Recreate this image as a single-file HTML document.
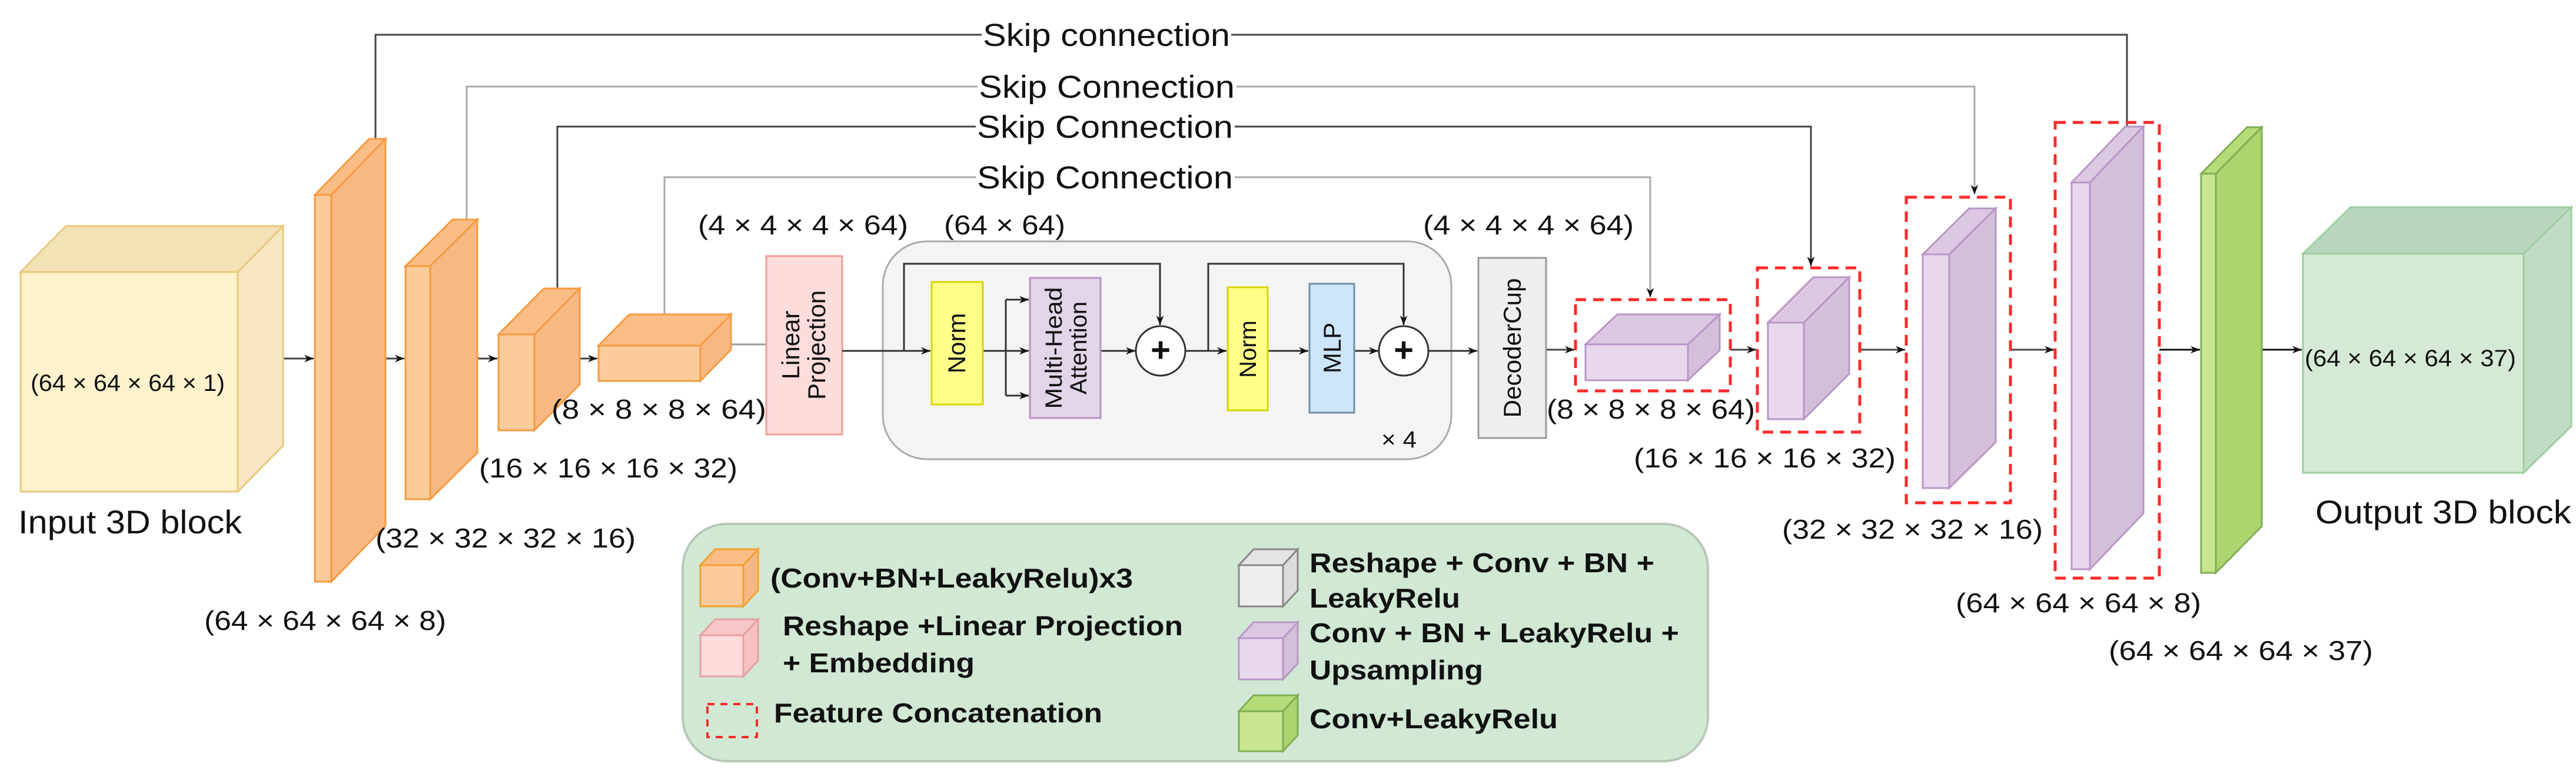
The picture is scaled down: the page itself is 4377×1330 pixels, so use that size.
<!DOCTYPE html>
<html><head><meta charset="utf-8"><style>
html,body{margin:0;padding:0;background:#fff;}
svg{display:block;}
text{font-family:"Liberation Sans",Arial,sans-serif;fill:#111;}
</style></head><body>
<svg width="4377" height="1330" viewBox="0 0 4377 1330" xmlns="http://www.w3.org/2000/svg">
<defs>
<marker id="a" viewBox="0 0 10 10" refX="10" refY="5" markerWidth="5" markerHeight="5" orient="auto" markerUnits="userSpaceOnUse"><path d="M0,0 L10,5 L0,10 z" fill="#111"/></marker>
<marker id="b" viewBox="0 0 10 10" refX="10" refY="5" markerWidth="16" markerHeight="16" orient="auto" markerUnits="userSpaceOnUse"><path d="M0,1 L10,5 L0,9 L3,5 z" fill="#111"/></marker>
</defs>

<!-- skip connections -->
<g fill="none" stroke-width="3">
<polyline points="638,236 638,59 3614,59 3614,340" stroke="#444" marker-end="url(#b)"/>
<polyline points="793,373 793,147 3355,147 3355,330" stroke="#aaa" marker-end="url(#b)"/>
<polyline points="947,490 947,215 3077,215 3077,452" stroke="#444" marker-end="url(#b)"/>
<polyline points="1129,534 1129,301 2804,301 2804,505" stroke="#aaa" marker-end="url(#b)"/>
</g>
<g font-size="54">
<rect x="1668" y="28" width="424" height="60" fill="#fff"/><text x="1670" y="78" textLength="420" lengthAdjust="spacingAndGlyphs">Skip connection</text>
<rect x="1661" y="116" width="440" height="60" fill="#fff"/><text x="1663" y="166" textLength="435" lengthAdjust="spacingAndGlyphs">Skip Connection</text>
<rect x="1658" y="184" width="440" height="60" fill="#fff"/><text x="1660" y="234" textLength="435" lengthAdjust="spacingAndGlyphs">Skip Connection</text>
<rect x="1658" y="270" width="440" height="60" fill="#fff"/><text x="1660" y="320" textLength="435" lengthAdjust="spacingAndGlyphs">Skip Connection</text>
</g>

<!-- main arrows -->
<g stroke="#444" stroke-width="3" fill="none">
<line x1="481" y1="609" x2="533" y2="609" marker-end="url(#b)"/>
<line x1="655" y1="609" x2="687" y2="609" marker-end="url(#b)"/>
<line x1="811" y1="609" x2="845" y2="609" marker-end="url(#b)"/>
<line x1="985" y1="609" x2="1015" y2="609" marker-end="url(#b)"/>
<line x1="1242" y1="585" x2="1302" y2="585" stroke="#999"/>
<line x1="2627" y1="594" x2="2675" y2="594" marker-end="url(#b)"/>
<line x1="2940" y1="594" x2="2984" y2="594" marker-end="url(#b)"/>
<line x1="3160" y1="594" x2="3237" y2="594" marker-end="url(#b)"/>
<line x1="3416" y1="594" x2="3490" y2="594" marker-end="url(#b)"/>
<line x1="3669" y1="594" x2="3738" y2="594" marker-end="url(#b)" stroke="#111"/>
<line x1="3843" y1="594" x2="3911" y2="594" marker-end="url(#b)" stroke="#111"/>
</g>

<!-- input cube -->
<g stroke="#e8c97a" stroke-width="3">
<polygon points="35,462 404,462 481,384 112,384" fill="#f3e2b6"/>
<polygon points="404,462 481,384 481,757 404,835" fill="#f7e7c2"/>
<rect x="35" y="462" width="369" height="373" fill="#fff2cc"/>
</g>
<text x="52" y="664" font-size="40" textLength="330" lengthAdjust="spacingAndGlyphs">(64 × 64 × 64 × 1)</text>
<text x="31" y="906" font-size="56" textLength="380" lengthAdjust="spacingAndGlyphs">Input 3D block</text>

<!-- orange blocks -->
<g stroke="#f59b3f" stroke-width="3">
<polygon points="535,331 563,331 655,236 627,236" fill="#fbbd86"/>
<polygon points="563,331 655,236 655,893 563,988" fill="#f8b883"/>
<rect x="535" y="331" width="28" height="657" fill="#fccb9b"/>
<polygon points="689,452 731,452 811,373 769,373" fill="#fbbd86"/>
<polygon points="731,452 811,373 811,769 731,848" fill="#f8b883"/>
<rect x="689" y="452" width="42" height="396" fill="#fccb9b"/>
<polygon points="847,568 908,568 985,490 924,490" fill="#fbbd86"/>
<polygon points="908,568 985,490 985,653 908,731" fill="#f8b883"/>
<rect x="847" y="568" width="61" height="163" fill="#fccb9b"/>
<polygon points="1017,587 1190,587 1242,534 1069,534" fill="#fbbd86"/>
<polygon points="1190,587 1242,534 1242,594 1190,647" fill="#f8b883"/>
<rect x="1017" y="587" width="173" height="60" fill="#fccb9b"/>
</g>

<g font-size="46">
<text x="1186" y="398" textLength="357" lengthAdjust="spacingAndGlyphs">(4 × 4 × 4 × 64)</text>
<text x="1604" y="398" textLength="206" lengthAdjust="spacingAndGlyphs">(64 × 64)</text>
<text x="937" y="711" textLength="365" lengthAdjust="spacingAndGlyphs">(8 × 8  × 8 × 64)</text>
<text x="814" y="811" textLength="439" lengthAdjust="spacingAndGlyphs">(16 × 16 × 16 × 32)</text>
<text x="638" y="930" textLength="442" lengthAdjust="spacingAndGlyphs">(32 × 32 × 32 × 16)</text>
<text x="347" y="1070" textLength="411" lengthAdjust="spacingAndGlyphs">(64 × 64 × 64 × 8)</text>
<text x="2418" y="398" textLength="358" lengthAdjust="spacingAndGlyphs">(4 × 4 × 4 × 64)</text>
<text x="2628" y="711" textLength="354" lengthAdjust="spacingAndGlyphs">(8 × 8 × 8 × 64)</text>
<text x="2776" y="794" textLength="445" lengthAdjust="spacingAndGlyphs">(16 × 16 × 16 × 32)</text>
<text x="3028" y="915" textLength="443" lengthAdjust="spacingAndGlyphs">(32 × 32 × 32 × 16)</text>
<text x="3323" y="1040" textLength="417" lengthAdjust="spacingAndGlyphs">(64 × 64 × 64 × 8)</text>
<text x="3583" y="1121" textLength="449" lengthAdjust="spacingAndGlyphs">(64 × 64 × 64 × 37)</text>
</g>

<!-- linear projection -->
<rect x="1302" y="435" width="129" height="303" fill="#fddcdc" stroke="#f19c9c" stroke-width="3"/>
<g transform="translate(1366,586) rotate(-90)" font-size="42">
<text x="0" y="-8" text-anchor="middle">Linear</text>
<text x="0" y="36" text-anchor="middle" textLength="186" lengthAdjust="spacingAndGlyphs">Projection</text>
</g>

<!-- transformer box -->
<rect x="1500" y="410" width="966" height="370" rx="75" fill="#f4f4f4" stroke="#aaa" stroke-width="3"/>
<g stroke="#333" stroke-width="3" fill="none">
<line x1="1431" y1="596" x2="1581" y2="596" marker-end="url(#b)"/>
<polyline points="1536,596 1536,448 1971,448 1971,552" marker-end="url(#b)"/>
<line x1="1670" y1="596" x2="1748" y2="596" marker-end="url(#b)"/>
<polyline points="1709,509 1709,672"/>
<line x1="1709" y1="509" x2="1748" y2="509" marker-end="url(#b)"/>
<line x1="1709" y1="672" x2="1748" y2="672" marker-end="url(#b)"/>
<line x1="1870" y1="596" x2="1929" y2="596" marker-end="url(#b)"/>
<line x1="2013" y1="596" x2="2084" y2="596" marker-end="url(#b)"/>
<polyline points="2053,596 2053,448 2385,448 2385,552" marker-end="url(#b)"/>
<line x1="2154" y1="596" x2="2223" y2="596" marker-end="url(#b)"/>
<line x1="2301" y1="596" x2="2342" y2="596" marker-end="url(#b)"/>
<line x1="2427" y1="596" x2="2510" y2="596" marker-end="url(#b)"/>
</g>
<rect x="1583" y="479" width="87" height="208" fill="#ffff88" stroke="#d6d600" stroke-width="3"/>
<text transform="translate(1640,583) rotate(-90)" font-size="42" text-anchor="middle">Norm</text>
<rect x="1750" y="472" width="120" height="238" fill="#e1d5e7" stroke="#b893c4" stroke-width="3"/>
<g transform="translate(1810,591) rotate(-90)" font-size="40">
<text x="0" y="-6" text-anchor="middle" textLength="207" lengthAdjust="spacingAndGlyphs">Multi-Head</text>
<text x="0" y="36" text-anchor="middle">Attention</text>
</g>
<circle cx="1972" cy="596" r="42" fill="#fff" stroke="#333" stroke-width="3"/>
<text x="1972" y="614" font-size="58" font-weight="bold" text-anchor="middle">+</text>
<rect x="2086" y="488" width="68" height="209" fill="#ffff88" stroke="#d6d600" stroke-width="3"/>
<text transform="translate(2134,593) rotate(-90)" font-size="40" text-anchor="middle">Norm</text>
<rect x="2225" y="482" width="76" height="219" fill="#cce5fb" stroke="#6f8fa8" stroke-width="3"/>
<text transform="translate(2278,591) rotate(-90)" font-size="42" text-anchor="middle">MLP</text>
<circle cx="2385" cy="596" r="42" fill="#fff" stroke="#333" stroke-width="3"/>
<text x="2385" y="614" font-size="58" font-weight="bold" text-anchor="middle">+</text>
<text x="2347" y="760" font-size="40" textLength="60" lengthAdjust="spacingAndGlyphs">× 4</text>

<!-- decoder cup -->
<rect x="2512" y="438" width="115" height="306" fill="#eeeeee" stroke="#999" stroke-width="3"/>
<text transform="translate(2584,591) rotate(-90)" font-size="42" text-anchor="middle" textLength="237" lengthAdjust="spacingAndGlyphs">DecoderCup</text>

<!-- purple blocks -->
<g stroke="#b896c6" stroke-width="3">
<polygon points="2694,585 2868,585 2922,534 2748,534" fill="#dcc8e2"/>
<polygon points="2868,585 2922,534 2922,595 2868,646" fill="#d3bfd9"/>
<rect x="2694" y="585" width="174" height="61" fill="#e8d8ee"/>
<polygon points="3004,548 3065,548 3142,471 3081,471" fill="#dcc8e2"/>
<polygon points="3065,548 3142,471 3142,635 3065,712" fill="#d3bfd9"/>
<rect x="3004" y="548" width="61" height="164" fill="#e8d8ee"/>
<polygon points="3267,432 3312,432 3391,354 3346,354" fill="#dcc8e2"/>
<polygon points="3312,432 3391,354 3391,751 3312,829" fill="#d3bfd9"/>
<rect x="3267" y="432" width="45" height="397" fill="#e8d8ee"/>
<polygon points="3520,310 3551,310 3642,215 3611,215" fill="#dcc8e2"/>
<polygon points="3551,310 3642,215 3642,872 3551,967" fill="#d3bfd9"/>
<rect x="3520" y="310" width="31" height="657" fill="#e8d8ee"/>
</g>
<g fill="none" stroke="#ff2a2a" stroke-width="5" stroke-dasharray="18 12">
<rect x="2677" y="509" width="263" height="155"/>
<rect x="2986" y="455" width="174" height="279"/>
<rect x="3239" y="335" width="177" height="519"/>
<rect x="3492" y="208" width="177" height="774"/>
</g>

<!-- green block -->
<g stroke="#7fae55" stroke-width="3">
<polygon points="3740,295 3765,295 3843,216 3818,216" fill="#b5dc78"/>
<polygon points="3765,295 3843,216 3843,894 3765,973" fill="#acd56f"/>
<rect x="3740" y="295" width="25" height="678" fill="#c8e68f"/>
</g>

<!-- output cube -->
<g stroke="#9ccf9f" stroke-width="3">
<polygon points="3913,431 4288,431 4369,352 3994,352" fill="#b8d6bd"/>
<polygon points="4288,431 4369,352 4369,724 4288,803" fill="#c1dcc5"/>
<rect x="3913" y="431" width="375" height="372" fill="#d5ead6"/>
</g>
<text x="3916" y="622" font-size="40" textLength="359" lengthAdjust="spacingAndGlyphs">(64 × 64 × 64 × 37)</text>
<text x="3934" y="889" font-size="56" textLength="435" lengthAdjust="spacingAndGlyphs">Output 3D block</text>

<!-- legend -->
<rect x="1160" y="890" width="1742" height="403" rx="75" fill="#d0e8d4" stroke="#b8c8b8" stroke-width="4"/>
<g stroke-width="3">
<polygon points="1190,960 1263,960 1288,933 1215,933" fill="#fbbd86" stroke="#f5a030"/>
<polygon points="1263,960 1288,933 1288,1003 1263,1030" fill="#f8b883" stroke="#f5a030"/>
<rect x="1190" y="960" width="73" height="70" fill="#fccb9b" stroke="#f5a030"/>
<polygon points="1190,1079 1263,1079 1288,1052 1215,1052" fill="#f7c8c8" stroke="#e8a0a0"/>
<polygon points="1263,1079 1288,1052 1288,1122 1263,1149" fill="#f5c2c2" stroke="#e8a0a0"/>
<rect x="1190" y="1079" width="73" height="70" fill="#ffdcdc" stroke="#e8a0a0"/>
<rect x="1202" y="1196" width="84" height="56" fill="none" stroke="#ff2a2a" stroke-width="4" stroke-dasharray="12 10"/>
<polygon points="2105,960 2180,960 2205,933 2130,933" fill="#e4e4e4" stroke="#888"/>
<polygon points="2180,960 2205,933 2205,1003 2180,1030" fill="#dcdcdc" stroke="#888"/>
<rect x="2105" y="960" width="75" height="70" fill="#efefef" stroke="#888"/>
<polygon points="2105,1084 2180,1084 2205,1057 2130,1057" fill="#dcc8e2" stroke="#b896c6"/>
<polygon points="2180,1084 2205,1057 2205,1127 2180,1154" fill="#d3bfd9" stroke="#b896c6"/>
<rect x="2105" y="1084" width="75" height="70" fill="#e8d8ee" stroke="#b896c6"/>
<polygon points="2105,1208 2180,1208 2205,1181 2130,1181" fill="#b5dc78" stroke="#7fae55"/>
<polygon points="2180,1208 2205,1181 2205,1249 2180,1276" fill="#acd56f" stroke="#7fae55"/>
<rect x="2105" y="1208" width="75" height="68" fill="#c8e68f" stroke="#7fae55"/>
</g>
<g font-size="46" font-weight="bold">
<text x="1309" y="998" textLength="616" lengthAdjust="spacingAndGlyphs">(Conv+BN+LeakyRelu)x3</text>
<text x="1330" y="1079" textLength="680" lengthAdjust="spacingAndGlyphs">Reshape +Linear Projection</text>
<text x="1330" y="1142" textLength="326" lengthAdjust="spacingAndGlyphs">+ Embedding</text>
<text x="1315" y="1227" textLength="558" lengthAdjust="spacingAndGlyphs">Feature Concatenation</text>
<text x="2225" y="972" textLength="586" lengthAdjust="spacingAndGlyphs">Reshape + Conv + BN +</text>
<text x="2225" y="1032" textLength="256" lengthAdjust="spacingAndGlyphs">LeakyRelu</text>
<text x="2225" y="1091" textLength="628" lengthAdjust="spacingAndGlyphs">Conv + BN + LeakyRelu +</text>
<text x="2225" y="1154" textLength="295" lengthAdjust="spacingAndGlyphs">Upsampling</text>
<text x="2225" y="1237" textLength="422" lengthAdjust="spacingAndGlyphs">Conv+LeakyRelu</text>
</g>
</svg>
</body></html>
